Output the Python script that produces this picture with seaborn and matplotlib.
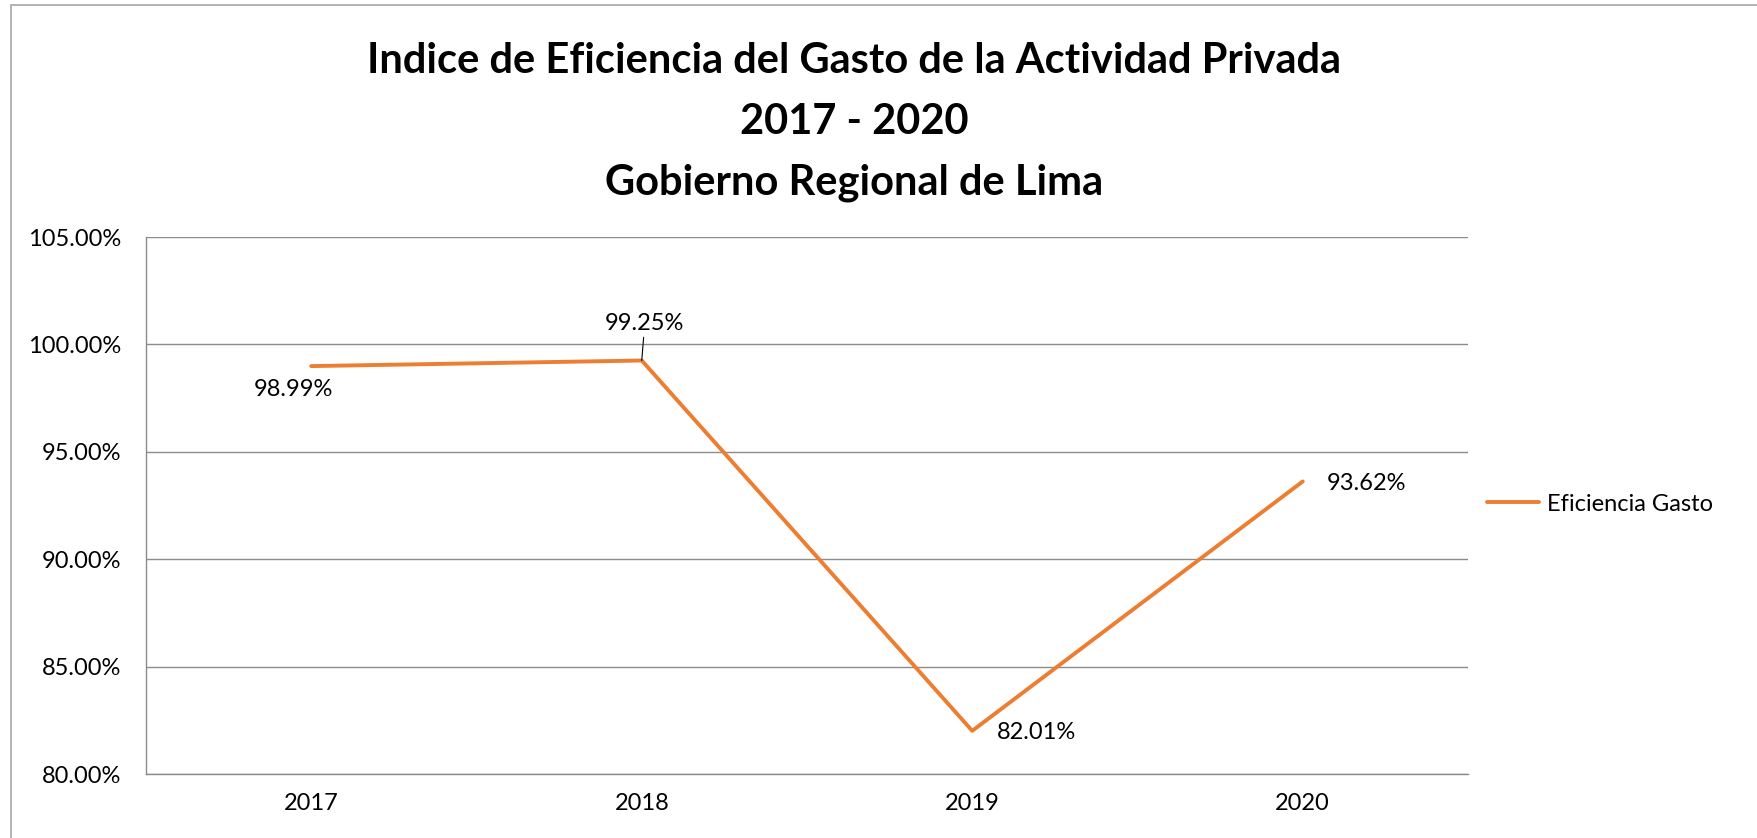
import numpy as np
import pandas as pd
import matplotlib
matplotlib.use("Agg")
import matplotlib.pyplot as plt
from matplotlib.ticker import FixedLocator, FuncFormatter, NullFormatter
import seaborn as sns

# data
years = ["2017", "2018", "2019", "2020"]
eficiencia = [98.99, 99.25, 82.01, 93.62]
serie = "Eficiencia Gasto"
titulo = ["Indice de Eficiencia del Gasto de la Actividad Privada",
          "2017 - 2020",
          "Gobierno Regional de Lima"]

sns.set_style("white")
plt.rcParams["font.family"] = ["Lato", "DejaVu Sans"]
plt.rcParams["text.color"] = "black"
plt.rcParams["xtick.color"] = "black"
plt.rcParams["ytick.color"] = "black"

W, H = 1757, 838
naranja = "#ED7D31"
gris = "#8C8C8C"
fs = 17

df = pd.DataFrame({"anio": years, "valor": eficiencia})

fig = plt.figure(figsize=(W / 100, H / 100), dpi=100)
ax = fig.add_axes([146 / W, 1 - 774 / H, (1468 - 146) / W, (774 - 237) / H])

sns.lineplot(data=df, x="anio", y="valor", ax=ax, color=naranja,
             linewidth=2.8, label=serie, legend=False)

ax.set_xlim(-0.5, 3.5)
ax.set_ylim(80, 105)
ax.set_yticks(np.arange(80, 105.1, 5))
ax.yaxis.set_major_formatter(FuncFormatter(lambda v, p: "%.2f%%" % v))

# category ticks between the bins, labels in the middle
ax.xaxis.set_major_locator(FixedLocator(np.arange(-0.5, 4, 1)))
ax.xaxis.set_major_formatter(NullFormatter())
ax.xaxis.set_minor_locator(FixedLocator(np.arange(4)))
ax.set_xticklabels(years, minor=True)
ax.tick_params(axis="x", which="major", direction="out", length=6, width=1, color=gris)
ax.tick_params(axis="x", which="minor", length=0, pad=14, labelsize=fs)
ax.tick_params(axis="y", direction="out", length=6, width=1, color=gris, pad=12, labelsize=fs)
ax.set_xlabel("")
ax.set_ylabel("")

ax.grid(axis="y", color=gris, linewidth=1.0)
ax.grid(axis="x", visible=False)
for s in ["top", "right"]:
    ax.spines[s].set_visible(False)
for s in ["left", "bottom"]:
    ax.spines[s].set_color(gris)
    ax.spines[s].set_linewidth(1.0)

# data labels (offsets in pixels)
offs = [(-18, -23), (3, 37), (64, -2), (64, -2)]
for i, v in enumerate(eficiencia):
    arrow = None
    if i == 1:
        arrow = dict(arrowstyle="-", color="black", lw=0.8, shrinkA=0, shrinkB=0)
    ax.annotate("%.2f%%" % v, xy=(i, v), xytext=offs[i], textcoords="offset pixels",
                ha="center", va="center", fontsize=fs, color="black", arrowprops=arrow)

fig.legend(handles=ax.get_lines()[:1], labels=[serie], loc="center left",
           bbox_to_anchor=(1487 / W, 1 - 504 / H), frameon=False, fontsize=fs,
           handlelength=2.2, handletextpad=0.35, borderpad=0, borderaxespad=0)

for txt, yb in zip(titulo, [73, 134, 194]):
    fig.text(854 / W, 1 - yb / H, txt, ha="center", va="baseline",
             fontsize=30, fontweight="bold", color="black")

# chart area border
fig.add_artist(plt.Rectangle((11 / W, -0.1), 1.2, 1 - 5 / H + 0.1, transform=fig.transFigure,
                             fill=False, ec="#A6A6A6", lw=1.2))

fig.savefig("out.png", dpi=100)
